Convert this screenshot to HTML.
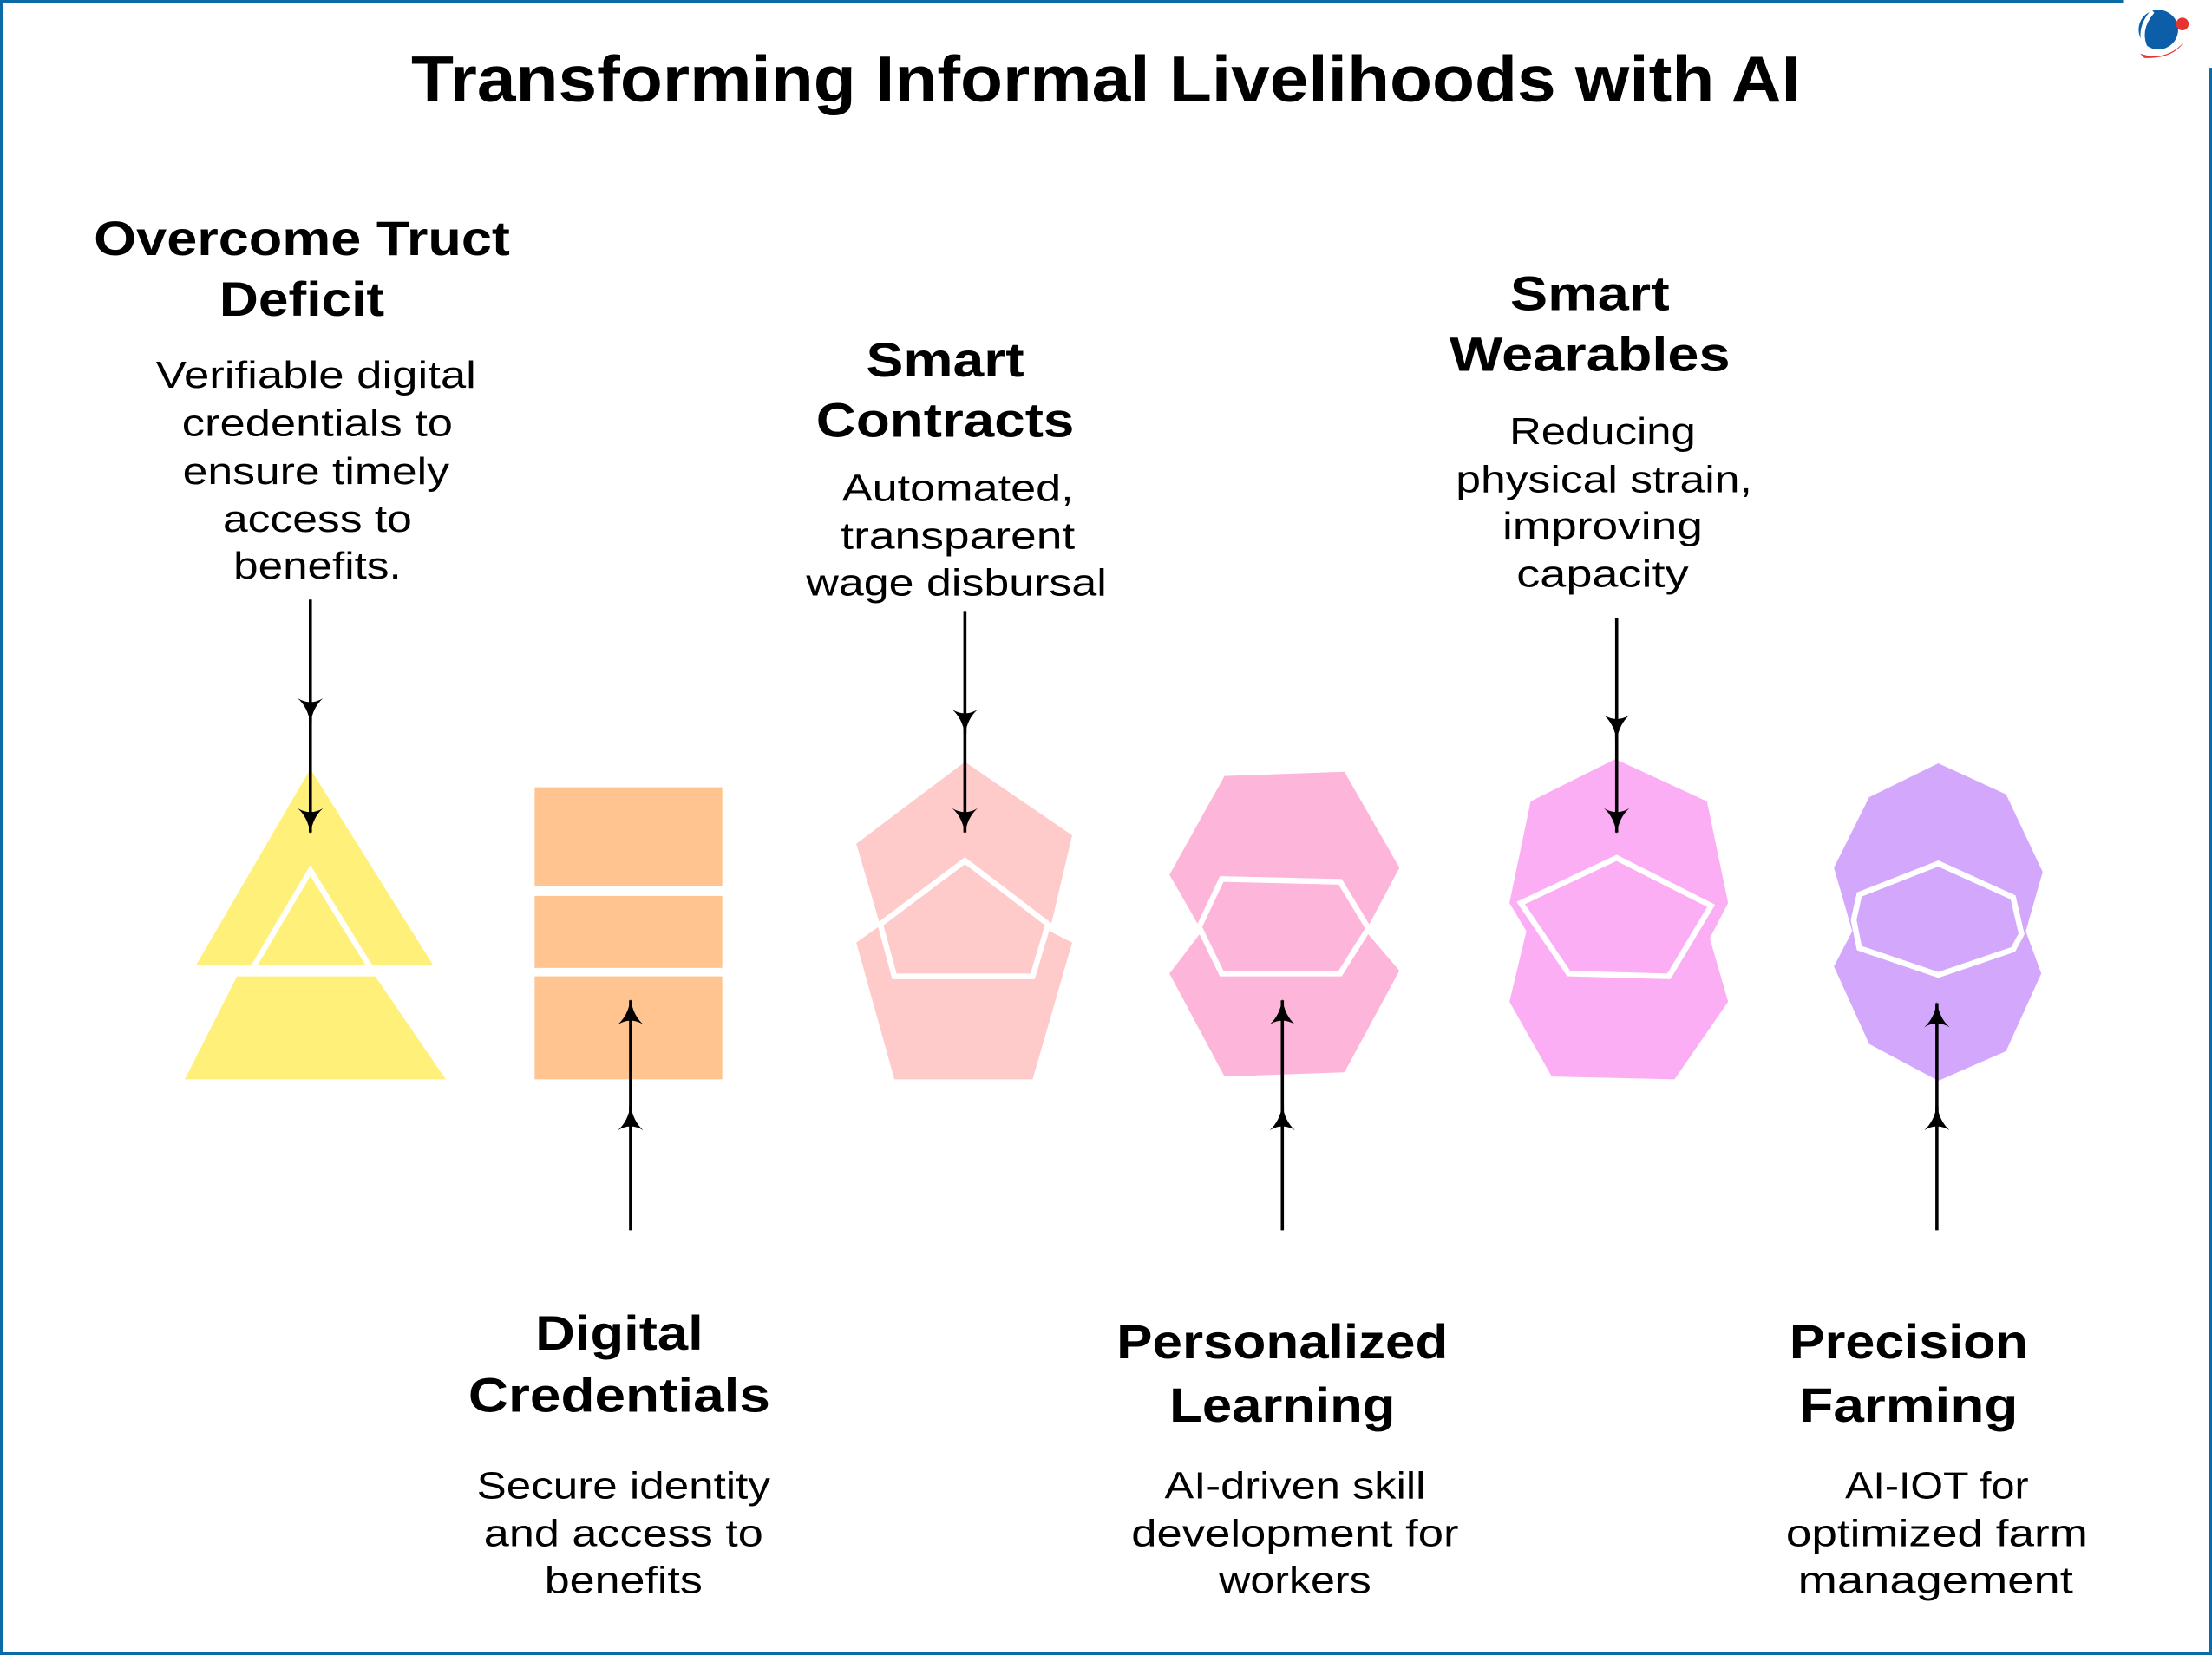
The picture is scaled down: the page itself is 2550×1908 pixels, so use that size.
<!DOCTYPE html>
<html><head><meta charset="utf-8"><style>
html,body{margin:0;padding:0;background:#fff;}
svg{display:block;}
text{font-family:"Liberation Sans",sans-serif;fill:#000;}
.h{font-weight:bold;font-size:34px;}
.b{font-size:27px;}
</style></head><body>
<svg width="2550" height="1908" viewBox="0 0 1568 1173" preserveAspectRatio="none" xmlns="http://www.w3.org/2000/svg">
<defs>
<marker id="ah" viewBox="0 0 20 20" refX="19" refY="10" markerWidth="22" markerHeight="18" markerUnits="userSpaceOnUse" orient="auto">
<path d="M20,10 Q7,8 0,0 Q6,10 0,20 Q7,12 20,10Z" fill="#000"/>
</marker>
</defs>
<rect x="0" y="0" width="1568" height="1173" fill="#fff"/>
<line x1="0" y1="1.2" x2="1505" y2="1.2" stroke="#0b6aa8" stroke-width="2.5"/>
<line x1="1.2" y1="0" x2="1.2" y2="1173" stroke="#0b6aa8" stroke-width="2.5"/>
<line x1="0" y1="1171.8" x2="1568" y2="1171.8" stroke="#0b6aa8" stroke-width="2.5"/>
<line x1="1566.8" y1="48" x2="1566.8" y2="1173" stroke="#0b6aa8" stroke-width="2.5"/>
<circle cx="1530" cy="21" r="14" fill="#0c5ea8"/>
<path d="M1526,8 Q1514,22 1522,36" stroke="#fff" stroke-width="3" fill="none"/>
<path d="M1517,38 Q1535,44 1548,30 Q1540,42 1520,41Z" fill="#e53431"/>
<circle cx="1547" cy="17" r="4.5" fill="#e53431"/>
<text x="784" y="56" text-anchor="middle" dominant-baseline="central" font-weight="bold" font-size="46" textLength="985" lengthAdjust="spacingAndGlyphs">Transforming Informal Livelihoods with AI</text>

<polygon points="220,545 307,684 139,684" fill="#fff07a"/>
<polygon points="168,692 266,692 316,765 131,765" fill="#fff07a"/>
<polygon points="220,617 264,688 178,688" fill="none" stroke="#fff" stroke-width="4"/>

<rect x="379" y="558" width="133" height="70" fill="#ffc48f"/>
<rect x="379" y="635" width="133" height="51" fill="#ffc48f"/>
<rect x="379" y="692" width="133" height="73" fill="#ffc48f"/>

<polygon points="684,540 760,592 744,660 760,668 732,765 634,765 607,668 624,656 607,598" fill="#fecaca"/>
<polygon points="684,610 743,655 732,692 634,692 624,655" fill="none" stroke="#fff" stroke-width="4"/>

<polygon points="868,550 953,547 992,615 968,660 992,688 953,760 868,763 829,690 852,660 829,620" fill="#fdb5da"/>
<polygon points="866,623 950,625 970,658 950,690 866,690 850,657" fill="none" stroke="#fff" stroke-width="4"/>

<polygon points="1145,538 1210,568 1225,640 1212,665 1225,710 1187,765 1100,763 1070,710 1082,660 1070,640 1085,568" fill="#fcaef4"/>
<polygon points="1146,608 1213,642 1183,692 1112,690 1078,640" fill="none" stroke="#fff" stroke-width="4"/>

<polygon points="1374,541 1422,563 1448,618 1436,660 1447,690 1422,745 1374,766 1325,740 1300,685 1313,660 1300,615 1325,565" fill="#d3a8fc"/>
<polygon points="1374,612 1427,636 1433,662 1427,673 1374,691 1318,672 1314,652 1318,634" fill="none" stroke="#fff" stroke-width="4"/>

<g stroke="#000" stroke-width="2.2" fill="none">
<line x1="220" y1="425" x2="220" y2="512" marker-end="url(#ah)"/>
<line x1="220" y1="505" x2="220" y2="590" marker-end="url(#ah)"/>
<line x1="684" y1="433" x2="684" y2="520" marker-end="url(#ah)"/>
<line x1="684" y1="513" x2="684" y2="590" marker-end="url(#ah)"/>
<line x1="1146" y1="438" x2="1146" y2="524" marker-end="url(#ah)"/>
<line x1="1146" y1="517" x2="1146" y2="590" marker-end="url(#ah)"/>
<line x1="447" y1="872" x2="447" y2="784" marker-end="url(#ah)"/>
<line x1="447" y1="790" x2="447" y2="709" marker-end="url(#ah)"/>
<line x1="909" y1="872" x2="909" y2="784" marker-end="url(#ah)"/>
<line x1="909" y1="790" x2="909" y2="709" marker-end="url(#ah)"/>
<line x1="1373" y1="872" x2="1373" y2="784" marker-end="url(#ah)"/>
<line x1="1373" y1="790" x2="1373" y2="711" marker-end="url(#ah)"/>
</g>

<g text-anchor="middle" dominant-baseline="central">
<text class="h" x="214" y="169" textLength="295" lengthAdjust="spacingAndGlyphs">Overcome Truct</text>
<text class="h" x="214" y="212" textLength="117" lengthAdjust="spacingAndGlyphs">Deficit</text>
<text class="b" x="224" y="266" textLength="227" lengthAdjust="spacingAndGlyphs">Verifiable digital</text>
<text class="b" x="225" y="300" textLength="192" lengthAdjust="spacingAndGlyphs">credentials to</text>
<text class="b" x="224" y="334" textLength="189" lengthAdjust="spacingAndGlyphs">ensure timely</text>
<text class="b" x="225" y="368" textLength="134" lengthAdjust="spacingAndGlyphs">access to</text>
<text class="b" x="225" y="401" textLength="119" lengthAdjust="spacingAndGlyphs">benefits.</text>

<text class="h" x="670" y="255" textLength="112" lengthAdjust="spacingAndGlyphs">Smart</text>
<text class="h" x="670" y="298" textLength="183" lengthAdjust="spacingAndGlyphs">Contracts</text>
<text class="b" x="679" y="346" textLength="164" lengthAdjust="spacingAndGlyphs">Automated,</text>
<text class="b" x="679" y="380" textLength="166" lengthAdjust="spacingAndGlyphs">transparent</text>
<text class="b" x="678" y="413" textLength="213" lengthAdjust="spacingAndGlyphs">wage disbursal</text>

<text class="h" x="1127" y="208" textLength="113" lengthAdjust="spacingAndGlyphs">Smart</text>
<text class="h" x="1127" y="251" textLength="199" lengthAdjust="spacingAndGlyphs">Wearables</text>
<text class="b" x="1136" y="306" textLength="132" lengthAdjust="spacingAndGlyphs">Reducing</text>
<text class="b" x="1137" y="340" textLength="210" lengthAdjust="spacingAndGlyphs">physical strain,</text>
<text class="b" x="1136" y="373" textLength="142" lengthAdjust="spacingAndGlyphs">improving</text>
<text class="b" x="1136" y="407" textLength="122" lengthAdjust="spacingAndGlyphs">capacity</text>

<text class="h" x="439" y="945" textLength="119" lengthAdjust="spacingAndGlyphs">Digital</text>
<text class="h" x="439" y="989" textLength="214" lengthAdjust="spacingAndGlyphs">Credentials</text>
<text class="b" x="442" y="1053" textLength="208" lengthAdjust="spacingAndGlyphs">Secure identity</text>
<text class="b" x="442" y="1087" textLength="198" lengthAdjust="spacingAndGlyphs">and access to</text>
<text class="b" x="442" y="1120" textLength="112" lengthAdjust="spacingAndGlyphs">benefits</text>

<text class="h" x="909" y="951" textLength="235" lengthAdjust="spacingAndGlyphs">Personalized</text>
<text class="h" x="909" y="996" textLength="160" lengthAdjust="spacingAndGlyphs">Learning</text>
<text class="b" x="918" y="1053" textLength="185" lengthAdjust="spacingAndGlyphs">AI-driven skill</text>
<text class="b" x="918" y="1087" textLength="232" lengthAdjust="spacingAndGlyphs">development for</text>
<text class="b" x="918" y="1120" textLength="108" lengthAdjust="spacingAndGlyphs">workers</text>

<text class="h" x="1353" y="951" textLength="169" lengthAdjust="spacingAndGlyphs">Precision</text>
<text class="h" x="1353" y="996" textLength="155" lengthAdjust="spacingAndGlyphs">Farming</text>
<text class="b" x="1373" y="1053" textLength="130" lengthAdjust="spacingAndGlyphs">AI-IOT for</text>
<text class="b" x="1373" y="1087" textLength="214" lengthAdjust="spacingAndGlyphs">optimized farm</text>
<text class="b" x="1372" y="1120" textLength="195" lengthAdjust="spacingAndGlyphs">management</text>
</g>
</svg>
</body></html>
